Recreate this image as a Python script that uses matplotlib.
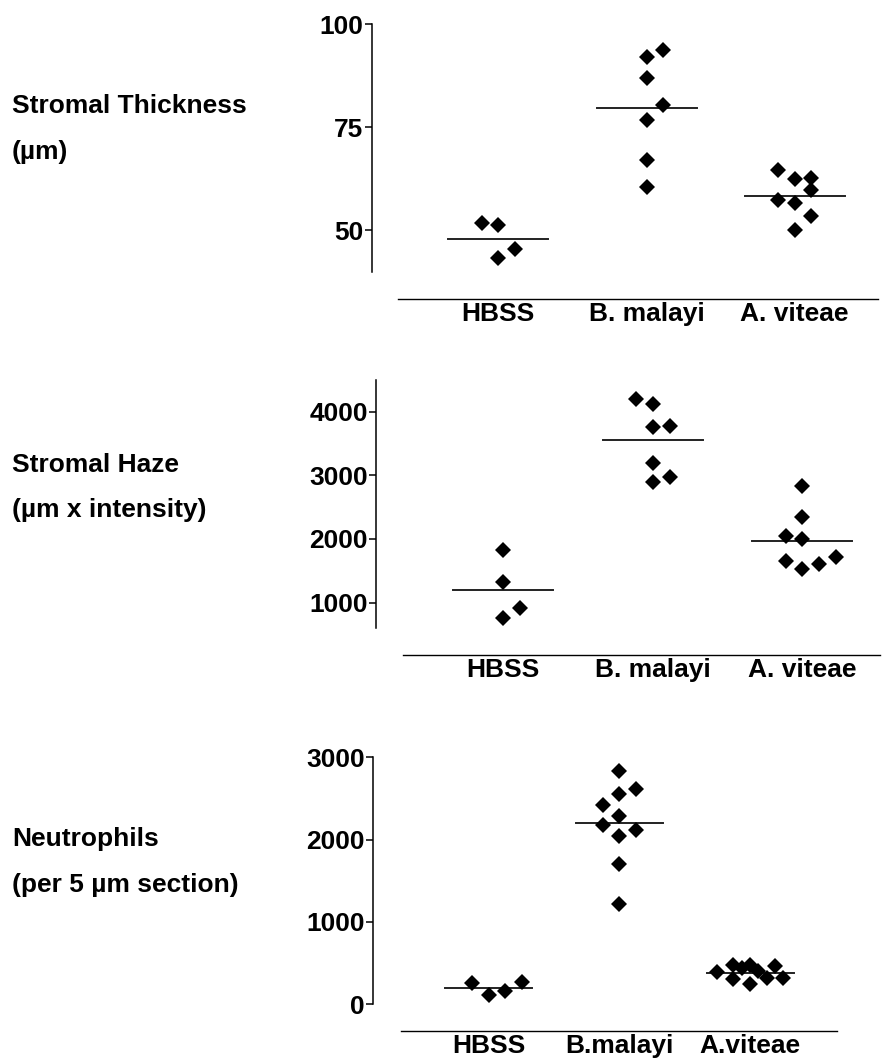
import matplotlib

matplotlib.use("Agg")
import matplotlib.pyplot as plt
import numpy as np

plt.rcParams["font.family"] = ["Liberation Sans", "DejaVu Sans"]
plt.rcParams["font.weight"] = "bold"

FIG_W, FIG_H = 890, 1060
FONT = 19

# ---- data ------------------------------------------------------------------
GROUPS_TOP = ["HBSS", "B. malayi", "A. viteae"]
GROUPS_BOTTOM = ["HBSS", "B.malayi", "A.viteae"]

thick_hbss = [51.8, 51.2, 45.6, 43.3]
thick_bmal = [93.7, 92.1, 87.0, 80.4, 76.8, 67.1, 60.4]
thick_avit = [64.7, 62.7, 62.4, 59.7, 57.3, 56.6, 53.6, 50.2]
thick_ticks = [50, 75, 100]

haze_hbss = [1820, 1320, 920, 750]
haze_bmal = [4200, 4130, 3760, 3780, 3190, 2970, 2900]
haze_avit = [2840, 2340, 2040, 1995, 1660, 1530, 1600, 1710]
haze_ticks = [1000, 2000, 3000, 4000]

neut_hbss = [250, 110, 160, 265]
neut_bmal = [2830, 2610, 2550, 2415, 2290, 2180, 2115, 2045, 1705, 1220]
neut_avit = [392, 471, 435, 469, 396, 458, 309, 247, 313, 313]
neut_ticks = [0, 1000, 2000, 3000]

# horizontal slot of each point inside its column (layout, not data)
thick_slots = [[-1, 0, 1, 0], [1, 0, 0, 1, 0, 0, 0], [-1, 1, 0, 1, -1, 0, 1, 0]]
haze_slots = [[0, 0, 1, 0], [-1, 0, 0, 1, 0, 1, 0], [0, 0, -1, 0, -1, 0, 1, 2]]
neut_slots = [
    [-1, 0, 1, 2],
    [0, 1, 0, -1, 0, -1, 1, 0, 0, 0],
    [-2, -1, -0.5, 0, 0.5, 1.5, -1, 0, 1, 2],
]


def draw_panel(fig, box, ylim, ticks, groups, series, slots, c0, spacing,
               line_x0, mean_half, title_lines):
    """box = (left, top, right, bottom) in pixels from the top-left corner."""
    left, top, right, bottom = box
    ax = fig.add_axes([left / FIG_W, 1 - bottom / FIG_H,
                       (right - left) / FIG_W, (bottom - top) / FIG_H])
    ax.set_xlim(-(c0 - left) / spacing, (right - c0) / spacing)
    ax.set_ylim(*ylim)

    slot = 16.7 / spacing
    for i, (vals, sl) in enumerate(zip(series, slots)):
        xs = i + np.asarray(sl) * slot
        ax.plot(xs, vals, "D", color="black", ms=8, mew=0, clip_on=False,
                zorder=3)
        m = np.mean(vals)
        hw = mean_half / spacing
        ax.plot([i - hw, i + hw], [m, m], color="#222222", lw=1.4, zorder=2)

    for s in ["top", "right"]:
        ax.spines[s].set_visible(False)
    ax.spines["left"].set_linewidth(1.1)
    ax.spines["bottom"].set_position(("outward", 19.5))
    ax.spines["bottom"].set_bounds(-(c0 - line_x0) / spacing, ax.get_xlim()[1])
    ax.spines["bottom"].set_linewidth(1.0)

    ax.set_yticks(ticks)
    ax.set_yticklabels([str(t) for t in ticks], fontsize=FONT, fontweight="bold")
    ax.tick_params(axis="y", length=5, width=1.1, pad=1)
    ax.set_xticks(range(len(groups)))
    ax.set_xticklabels(groups, fontsize=FONT, fontweight="bold")
    ax.tick_params(axis="x", length=0, pad=2)

    for text, y in title_lines:
        fig.text(12 / FIG_W, 1 - y / FIG_H, text, fontsize=FONT,
                 fontweight="bold", ha="left", va="center")
    return ax


fig = plt.figure(figsize=(FIG_W / 100, FIG_H / 100), dpi=100)

draw_panel(fig, (371.7, 24, 878, 271.7), (40, 100), thick_ticks, GROUPS_TOP,
           [thick_hbss, thick_bmal, thick_avit], thick_slots,
           498.3, 148.2, 398, 50,
           [("Stromal Thickness", 106), ("(\u00b5m)", 152)])

draw_panel(fig, (376, 380, 880, 628), (600, 4500), haze_ticks, GROUPS_TOP,
           [haze_hbss, haze_bmal, haze_avit], haze_slots,
           503.3, 149.5, 403, 50,
           [("Stromal Haze", 465), ("(\u00b5m x intensity)", 510)])

draw_panel(fig, (373.3, 757.3, 836.7, 1004), (0, 3000), neut_ticks, GROUPS_BOTTOM,
           [neut_hbss, neut_bmal, neut_avit], neut_slots,
           488.6, 130.7, 400.7, 43.5,
           [("Neutrophils", 839), ("(per 5 \u00b5m section)", 885)])

fig.savefig("out.png", dpi=100)
